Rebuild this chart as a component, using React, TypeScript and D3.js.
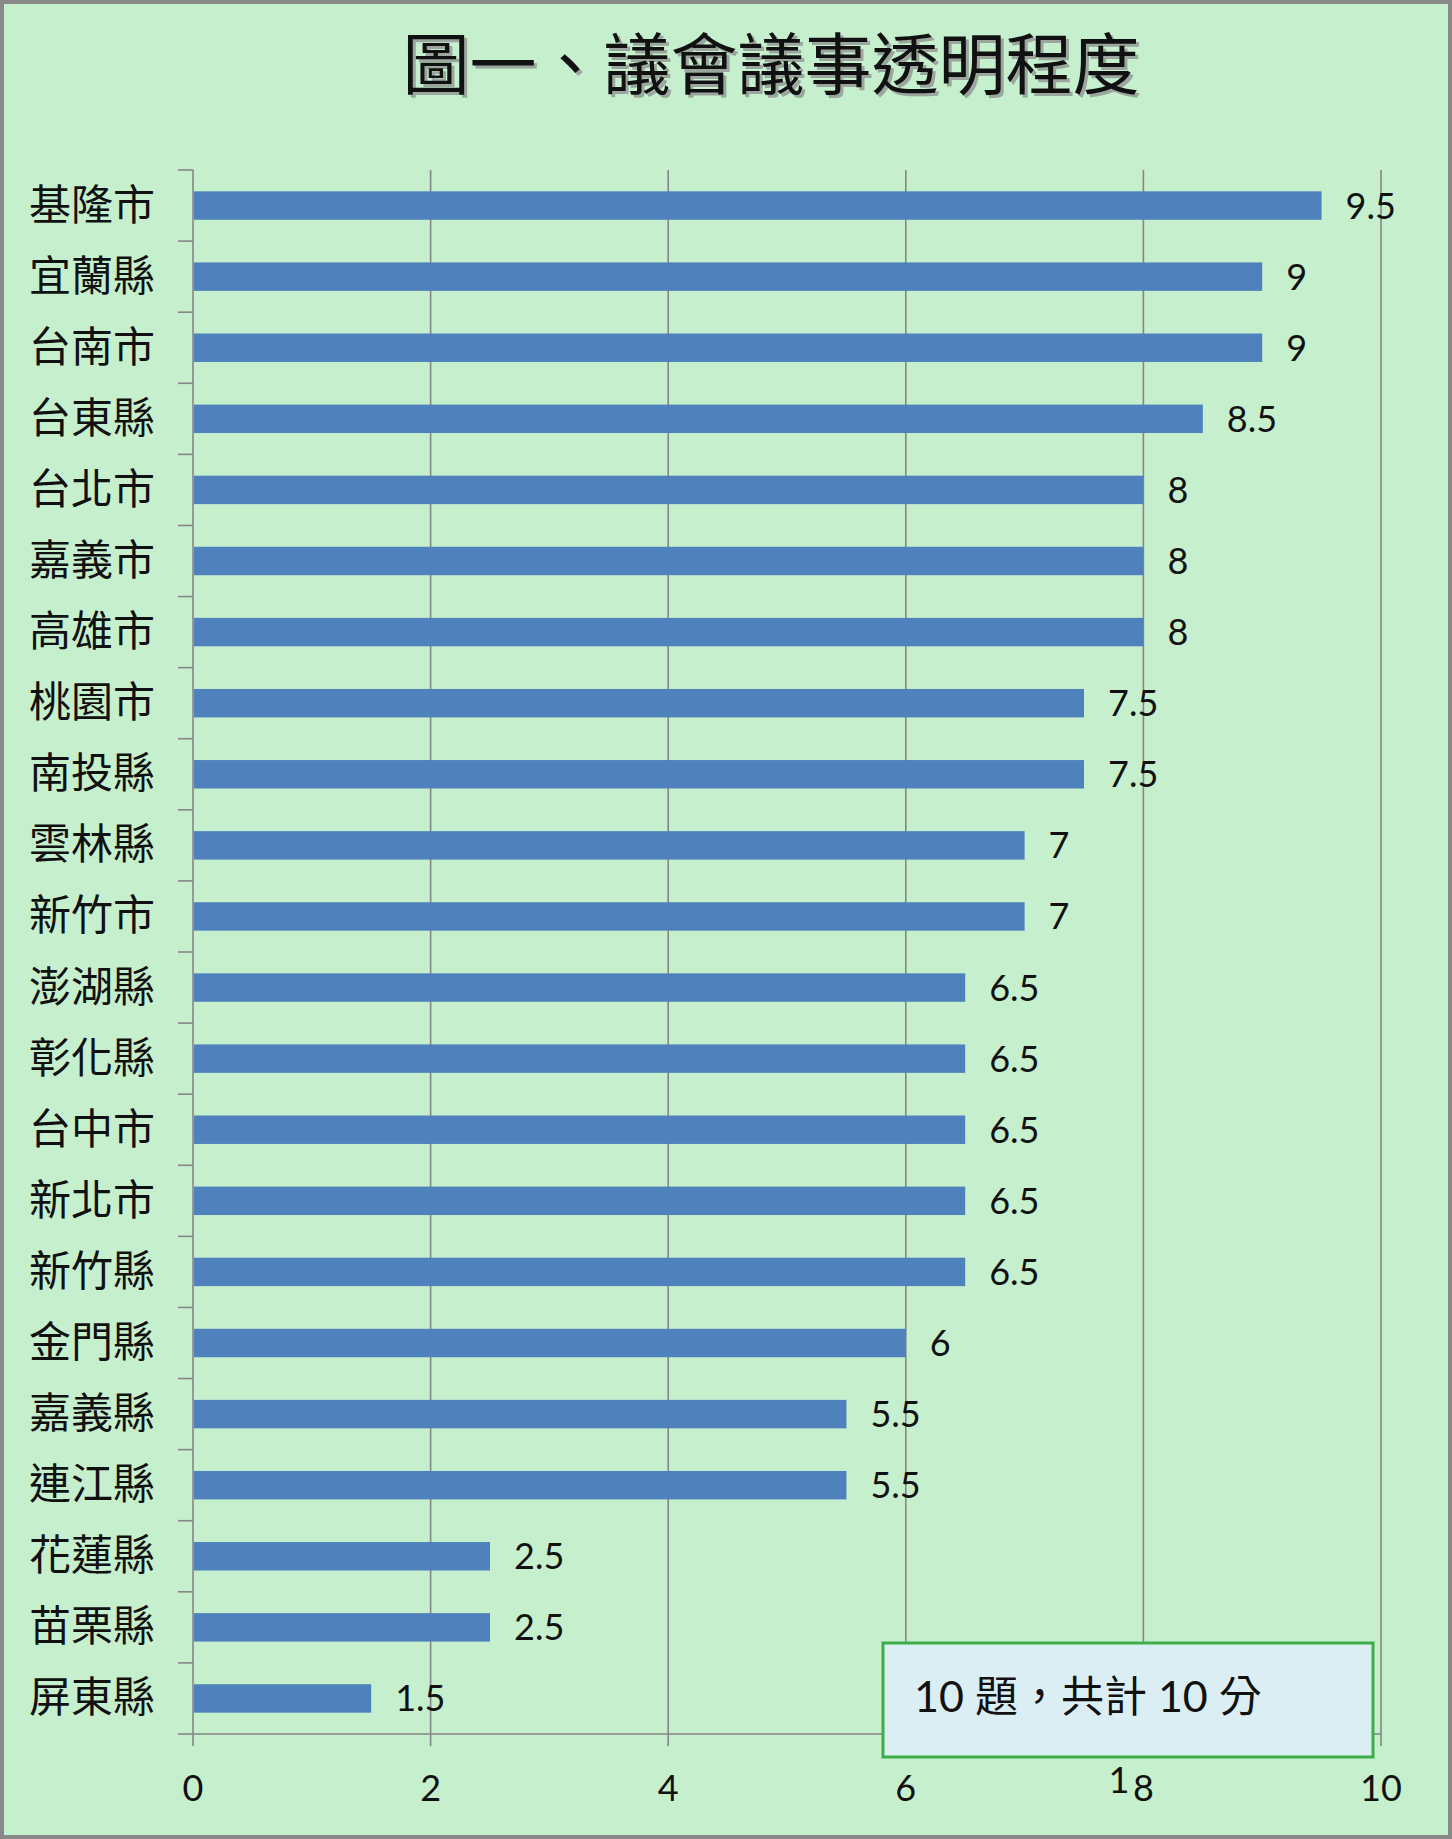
import React from "react";
import * as d3 from "d3";

const categories: string[] = [
  "基隆市", "宜蘭縣", "台南市", "台東縣", "台北市", "嘉義市", "高雄市",
  "桃園市", "南投縣", "雲林縣", "新竹市", "澎湖縣", "彰化縣", "台中市",
  "新北市", "新竹縣", "金門縣", "嘉義縣", "連江縣", "花蓮縣", "苗栗縣", "屏東縣",
];
const scores: number[] = [
  9.5, 9, 9, 8.5, 8, 8, 8, 7.5, 7.5, 7, 7, 6.5, 6.5, 6.5, 6.5, 6.5, 6, 5.5, 5.5, 2.5, 2.5, 1.5,
];
const xTicks: number[] = [0, 2, 4, 6, 8, 10];
const title = "圖一、議會議事透明程度";
const note = "10 題，共計 10 分";

const W = 1452;
const H = 1839;
const plot = { left: 193, right: 1381, top: 170, bottom: 1734 };

const CJK = "'Noto Sans CJK TC', 'Noto Sans CJK SC', sans-serif";
const NUM = "Lato, 'Open Sans', sans-serif";

const App: React.FC = () => {
  const x = d3.scaleLinear().domain([0, 10]).range([plot.left, plot.right]);
  const y = d3
    .scaleBand<string>()
    .domain(categories)
    .range([plot.top, plot.bottom])
    .paddingInner(0.6)
    .paddingOuter(0.3);
  const step = y.step();
  const bw = y.bandwidth();
  const grid = "#868686";

  return (
    <div style={{ position: "absolute", left: 0, top: 0 }}>
      <svg width={W} height={H} viewBox={`0 0 ${W} ${H}`}>
        <rect x={2} y={2} width={W - 4} height={H - 4} fill="#c6efce" stroke="#898989" strokeWidth={4} />

        {/* title with a soft shadow */}
        <text x={774} y={92} textAnchor="middle" fontFamily={CJK} fontSize={67} fill="#8a8a8a" opacity={0.7}>
          {title}
        </text>
        <text x={771} y={89} textAnchor="middle" fontFamily={CJK} fontSize={67} fill="#111">
          {title}
        </text>

        {/* vertical gridlines (also the value-axis ticks) */}
        {xTicks.map((t) => (
          <line key={t} x1={x(t)} x2={x(t)} y1={plot.top} y2={plot.bottom + 12} stroke={grid} strokeWidth={1.6} />
        ))}

        {/* category axis ticks */}
        {d3.range(categories.length + 1).map((i) => (
          <line
            key={i}
            x1={plot.left - 15}
            x2={plot.left}
            y1={plot.top + i * step}
            y2={plot.top + i * step}
            stroke={grid}
            strokeWidth={1.6}
          />
        ))}
        <line x1={plot.left} x2={plot.right} y1={plot.bottom} y2={plot.bottom} stroke={grid} strokeWidth={1.6} />

        {/* bars and values */}
        {categories.map((c, i) => {
          const v = scores[i];
          const yy = y(c)!;
          return (
            <g key={c}>
              <rect x={x(0) + 1} y={yy} width={x(v) - x(0) - 1} height={bw} fill="#4f81bd" />
              <text
                x={x(v) + 24}
                y={yy + bw / 2 + 13}
                fontFamily={NUM}
                fontSize={36}
                fill="#111"
              >
                {String(v)}
              </text>
              <text
                x={155}
                y={yy + bw / 2 + 14}
                textAnchor="end"
                fontFamily={CJK}
                fontSize={42}
                fill="#111"
              >
                {c}
              </text>
            </g>
          );
        })}

        {/* value axis labels */}
        {xTicks.map((t) => (
          <text key={t} x={x(t)} y={1801} textAnchor="middle" fontFamily={NUM} fontSize={36} fill="#111">
            {t}
          </text>
        ))}
        <text x={1119} y={1793} textAnchor="middle" fontFamily={NUM} fontSize={36} fill="#111">
          1
        </text>

        {/* note box */}
        <rect x={883} y={1643} width={490} height={114} fill="#daeef3" stroke="#3dae49" strokeWidth={3} />
        <text x={914} y={1712} fontFamily={`${NUM}, ${CJK}`} fontSize={43} fill="#111">
          {note}
        </text>
      </svg>
    </div>
  );
};

export default App;
